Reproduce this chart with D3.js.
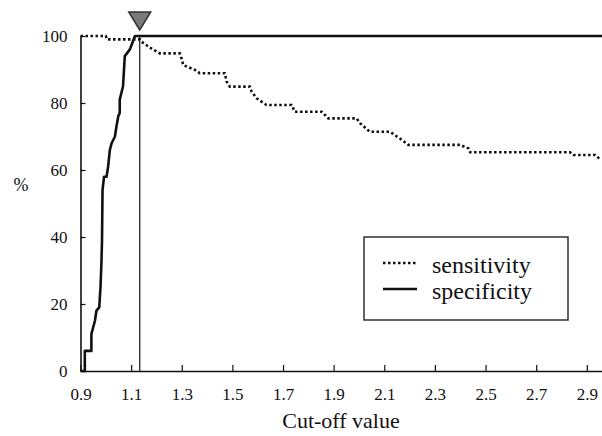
<!DOCTYPE html>
<html>
<head>
<meta charset="utf-8">
<script src="https://cdn.jsdelivr.net/npm/d3@7"></script>
<style>
  body { margin: 0; background: #fff; }
  svg text { font-family: "Liberation Serif", "Times New Roman", serif; fill: #111; }
</style>
</head>
<body>
<div class="chart"></div>
<script>
// cut-off values and percentages
const sensCut = [0.900, 1.000, 1.004, 1.134, 1.141, 1.174, 1.213, 1.292, 1.299, 1.306, 1.352, 1.371, 1.470, 1.477, 1.490,
  1.569, 1.576, 1.596, 1.635, 1.734, 1.747, 1.853, 1.879, 1.991, 2.004, 2.043, 2.123, 2.169, 2.195, 2.399, 2.432, 2.439,
  2.834, 2.847, 2.933, 2.955];
const sensVal = [100, 100, 99, 99, 98.3, 96.5, 94.8, 94.8, 93.3, 91.3, 89.9, 88.9, 88.9, 86.4, 84.9,
  84.9, 83.4, 81.4, 79.4, 79.4, 77.4, 77.4, 75.4, 75.4, 74, 71.4, 71.4, 69, 67.5, 67.5, 66.5, 65.3,
  65.3, 64.5, 64.5, 63];

const specCut = [0.900, 0.917, 0.917, 0.943, 0.943, 0.957, 0.963, 0.974, 0.979, 0.983, 0.985, 0.987, 0.993, 1.003,
  1.009, 1.016, 1.023, 1.036, 1.042, 1.049, 1.055, 1.055, 1.068, 1.075, 1.095, 1.105, 1.115, 2.960];
const specVal = [0, 0, 6, 6, 11, 15, 18, 19, 25, 33, 39, 54, 58, 58,
  61, 66, 68, 70, 73, 76, 77, 81, 85, 94, 96, 98, 100, 100];

const xTicks = [0.9, 1.1, 1.3, 1.5, 1.7, 1.9, 2.1, 2.3, 2.5, 2.7, 2.9];
const yTicks = [0, 20, 40, 60, 80, 100];
const cutOff = 1.134;
const seriesNames = ["sensitivity", "specificity"];

const width = 602, height = 436;
const serif = '"Liberation Serif", "Times New Roman", serif';

const svg = d3.select(".chart").append("svg")
  .attr("width", width)
  .attr("height", height);

const xScale = d3.scaleLinear().domain([0.9, 2.96]).range([80.5, 602]);
const yScale = d3.scaleLinear().domain([0, 100]).range([371, 36]);

// axes, ticks pointing inward
const xAxis = d3.axisBottom(xScale)
  .tickValues(xTicks)
  .tickFormat(d3.format(".1f"))
  .tickSizeInner(-6)
  .tickSizeOuter(0)
  .tickPadding(17);

const yAxis = d3.axisLeft(yScale)
  .tickValues(yTicks)
  .tickSizeInner(-5)
  .tickSizeOuter(0)
  .tickPadding(13);

const gx = svg.append("g")
  .attr("transform", `translate(0, ${yScale(0)})`)
  .call(xAxis);

const gy = svg.append("g")
  .attr("transform", `translate(${xScale(0.9)}, 0)`)
  .call(yAxis);

[gx, gy].forEach(g => {
  g.attr("font-family", null).attr("font-size", null);
  g.select(".domain").attr("stroke", "#111").attr("stroke-width", 1.6);
  g.selectAll(".tick line").attr("stroke", "#111").attr("stroke-width", 1.2);
  g.selectAll(".tick text")
    .style("font-family", serif)
    .style("font-size", "17px")
    .attr("fill", "#111");
});

// axis titles
svg.append("text")
  .attr("x", 341)
  .attr("y", 428)
  .attr("text-anchor", "middle")
  .style("font-size", "22px")
  .text("Cut-off value");

svg.append("text")
  .attr("x", 21)
  .attr("y", 191)
  .attr("text-anchor", "middle")
  .style("font-size", "18px")
  .text("%");

// vertical line at the chosen cut-off
svg.append("line")
  .attr("x1", xScale(cutOff))
  .attr("x2", xScale(cutOff))
  .attr("y1", yScale(0))
  .attr("y2", yScale(100))
  .attr("stroke", "#111")
  .attr("stroke-width", 1.2);

const line = d3.line()
  .x(d => xScale(d[0]))
  .y(d => yScale(d[1]));

const sens = sensCut.map((c, i) => [c, sensVal[i]]);
const spec = specCut.map((c, i) => [c, specVal[i]]);

svg.append("path")
  .datum(spec)
  .attr("d", line)
  .attr("fill", "none")
  .attr("stroke", "#111")
  .attr("stroke-width", 2.6)
  .attr("stroke-linejoin", "round");

svg.append("path")
  .datum(sens)
  .attr("d", line)
  .attr("fill", "none")
  .attr("stroke", "#111")
  .attr("stroke-width", 2.6)
  .attr("stroke-dasharray", "2.5,2.5");

// triangle marker above the cut-off
const tx = xScale(cutOff);
svg.append("path")
  .attr("d", `M${tx - 11},12 L${tx + 11},12 L${tx},30 Z`)
  .attr("fill", "#7a7a7a")
  .attr("stroke", "#333")
  .attr("stroke-width", 1.5);

// legend
const legend = svg.append("g").attr("transform", "translate(364, 237)");

legend.append("rect")
  .attr("width", 204)
  .attr("height", 83)
  .attr("fill", "#fff")
  .attr("stroke", "#222")
  .attr("stroke-width", 1.4);

const items = legend.selectAll(".item")
  .data(seriesNames)
  .enter()
  .append("g")
  .attr("transform", (d, i) => `translate(0, ${26 + i * 26})`);

items.append("line")
  .attr("x1", 19)
  .attr("x2", 53)
  .attr("stroke", "#111")
  .attr("stroke-width", 2.6)
  .attr("stroke-dasharray", (d, i) => i === 0 ? "2.5,2.5" : null);

items.append("text")
  .attr("x", 68)
  .attr("y", 10)
  .style("font-size", "24px")
  .text(d => d);
</script>
</body>
</html>
